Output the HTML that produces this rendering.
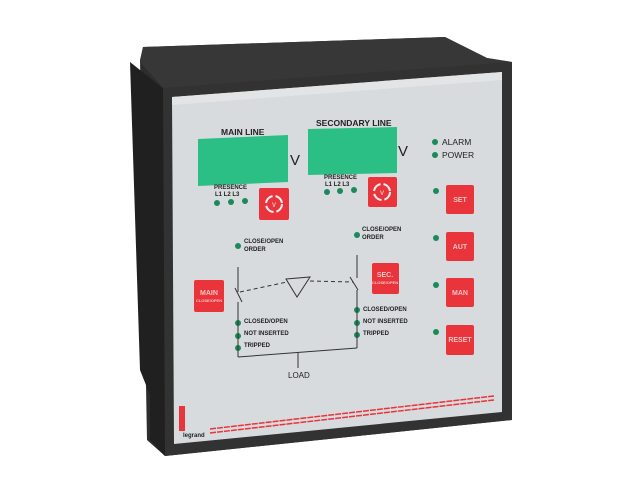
<!DOCTYPE html>
<html><head><meta charset="utf-8"><style>
html,body{margin:0;padding:0;background:#fff;}
svg{display:block;}
text{font-family:"Liberation Sans",Arial,sans-serif;}
</style></head><body>
<svg width="640" height="480" viewBox="0 0 640 480" xmlns="http://www.w3.org/2000/svg">
<polygon points="143,47 445,37 487,58 512,62 512,420 165,456 147,440 140,60" fill="#2c2d2c"/>
<polygon points="143,47 445,37 487,58 512,62 165,90 140,62" fill="#363736"/>
<polygon points="130,62 165,90 165,456 150,440 150,395 140,370" fill="#1f201f"/>
<polygon points="163,88 512,62 512,420 165,456" fill="#313231"/>
<polygon points="172,97 502,72 502,412 174,444" fill="#d8dbdd"/>
<polygon points="172,97 502,72 502,80 172,105" fill="#e2e4e6"/>
<polygon points="198,139 288,135 288,182 198,186" fill="#2cbf85"/>
<polygon points="308,129 397,127 397,173 308,175" fill="#2cbf85"/>
<g font-weight="bold" fill="#222">
<text x="221" y="135" font-size="8.5">MAIN LINE</text>
<text x="316" y="126" font-size="8.5">SECONDARY LINE</text>
<text x="290" y="165" font-size="15" font-weight="normal">V</text>
<text x="398" y="156" font-size="15" font-weight="normal">V</text>
<text x="442" y="145" font-size="8.5" font-weight="normal">ALARM</text>
<text x="442" y="158" font-size="8.5" font-weight="normal">POWER</text>
<text x="214" y="189" font-size="6">PRESENCE</text>
<text x="215" y="196" font-size="6">L1  L2  L3</text>
<text x="324" y="179" font-size="6">PRESENCE</text>
<text x="325" y="186" font-size="6">L1  L2  L3</text>
<text x="244" y="243" font-size="6">CLOSE/OPEN</text>
<text x="244" y="251" font-size="6">ORDER</text>
<text x="362" y="231" font-size="6">CLOSE/OPEN</text>
<text x="362" y="239" font-size="6">ORDER</text>
<text x="244" y="323" font-size="6">CLOSED/OPEN</text>
<text x="244" y="335" font-size="6">NOT INSERTED</text>
<text x="244" y="347" font-size="6">TRIPPED</text>
<text x="363" y="311" font-size="6">CLOSED/OPEN</text>
<text x="363" y="323" font-size="6">NOT INSERTED</text>
<text x="363" y="335" font-size="6">TRIPPED</text>
<text x="288" y="378" font-size="8" font-weight="normal">LOAD</text>
<text x="183" y="437" font-size="6">legrand</text>
</g>
<g fill="#1a8a5a">
<circle cx="435" cy="142" r="3"/><circle cx="435" cy="155" r="3"/>
<circle cx="217" cy="203" r="3"/><circle cx="231" cy="202" r="3"/><circle cx="245" cy="201" r="3"/>
<circle cx="327" cy="192" r="3"/><circle cx="340" cy="191" r="3"/><circle cx="354" cy="190" r="3"/>
<circle cx="238" cy="246" r="3"/><circle cx="357" cy="235" r="3"/>
<circle cx="238" cy="323" r="3"/><circle cx="238" cy="336" r="3"/><circle cx="238" cy="348" r="3"/>
<circle cx="357" cy="310" r="3"/><circle cx="357" cy="323" r="3"/><circle cx="357" cy="335" r="3"/>
<circle cx="436" cy="191" r="3"/><circle cx="436" cy="238" r="3"/><circle cx="436" cy="285" r="3"/><circle cx="436" cy="332" r="3"/>
</g>
<g fill="#e8343a">
<rect x="259" y="188" width="30" height="32" rx="2"/>
<rect x="368" y="177" width="29" height="30" rx="2"/>
<rect x="446" y="185" width="28" height="29" rx="2"/>
<rect x="446" y="232" width="28" height="29" rx="2"/>
<rect x="446" y="278" width="28" height="29" rx="2"/>
<rect x="446" y="325" width="28" height="30" rx="2"/>
<rect x="194" y="280" width="30" height="32" rx="2"/>
<rect x="372" y="263" width="27" height="31" rx="2"/>
<rect x="179" y="406" width="6" height="25"/>
</g>
<g fill="none" stroke="#eee" stroke-width="2">
<circle cx="274" cy="204" r="8" stroke-dasharray="10 3"/>
<circle cx="382" cy="192" r="8" stroke-dasharray="10 3"/>
</g>
<g fill="#f4c4c4" font-weight="bold" text-anchor="middle">
<text x="274" y="207" font-size="6">V</text>
<text x="382" y="195" font-size="6">V</text>
<text x="460" y="202" font-size="7">SET</text>
<text x="460" y="249" font-size="7">AUT</text>
<text x="460" y="295" font-size="7">MAN</text>
<text x="460" y="342" font-size="7">RESET</text>
<text x="209" y="295" font-size="7">MAIN</text>
<text x="209" y="302" font-size="4">CLOSE/OPEN</text>
<text x="385" y="277" font-size="7">SEC.</text>
<text x="385" y="284" font-size="4">CLOSE/OPEN</text>
</g>
<g stroke="#333" stroke-width="1" fill="none">
<line x1="238" y1="267" x2="238" y2="292"/>
<line x1="235" y1="288" x2="242" y2="302"/>
<line x1="238" y1="302" x2="238" y2="357"/>
<line x1="238" y1="357" x2="357" y2="348"/>
<line x1="298" y1="353" x2="298" y2="368"/>
<line x1="357" y1="255" x2="357" y2="278"/>
<line x1="350" y1="277" x2="358" y2="290"/>
<line x1="357" y1="290" x2="357" y2="348"/>
<line x1="240" y1="292" x2="287" y2="282" stroke-dasharray="4 3"/>
<line x1="310" y1="281" x2="353" y2="282" stroke-dasharray="4 3"/>
<polygon points="286,279 310,277 297,297"/>
</g>
<g stroke="#e8343a" stroke-width="1.5" stroke-dasharray="6 1">
<line x1="210" y1="429" x2="494" y2="396"/>
<line x1="210" y1="433" x2="494" y2="400"/>
</g>
</svg>
</body></html>
